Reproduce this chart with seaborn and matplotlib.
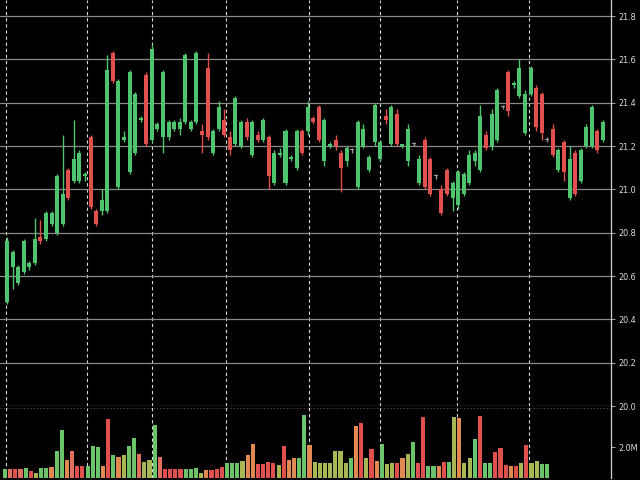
import numpy as np
import pandas as pd
import matplotlib
matplotlib.use("Agg")
import matplotlib.pyplot as plt
import seaborn as sns

# ---------------- data ----------------
opens = [20.48, 20.64, 20.57, 20.62, 20.64, 20.66, 20.78, 20.77, 20.84, 20.80,
         20.84, 21.09, 21.04, 21.04, 21.06, 21.24, 20.90, 20.90, 20.90,
         21.63, 21.01, 21.23, 21.08, 21.17, 21.32, 21.53, 21.23,
         21.28, 21.24, 21.24, 21.28, 21.28, 21.31, 21.28, 21.31, 21.27, 21.56,
         21.17, 21.28, 21.32, 21.24, 21.21, 21.20, 21.31, 21.16, 21.25, 21.23,
         21.24, 21.03, 21.16, 21.03, 21.14, 21.10, 21.27, 21.27, 21.33, 21.38, 21.13, 21.20, 21.23,
         21.17, 21.13, 21.18, 21.01, 21.20, 21.09, 21.22, 21.14, 21.34, 21.21,
         21.35, 21.20, 21.13, 21.21, 21.03, 21.23, 21.14, 21.06, 21.00, 21.09,
         20.96, 20.93, 20.98, 21.03, 21.13, 21.09, 21.25, 21.20, 21.23, 21.38,
         21.54, 21.48, 21.43, 21.26, 21.44, 21.47, 21.44, 21.23, 21.28, 21.09,
         21.22, 20.96, 21.17, 21.04, 21.20, 21.20, 21.27, 21.23]
highs = [20.78, 20.72, 20.65, 20.77, 20.67, 20.87, 20.86, 20.90, 20.90, 21.07,
         21.25, 21.10, 21.32, 21.18, 21.08, 21.25, 20.91, 21.00, 21.62,
         21.64, 21.51, 21.27, 21.55, 21.45, 21.34, 21.54, 21.67,
         21.31, 21.55, 21.32, 21.32, 21.33, 21.63, 21.32, 21.64, 21.30, 21.63,
         21.28, 21.41, 21.37, 21.27, 21.43, 21.32, 21.33, 21.32, 21.27, 21.33,
         21.25, 21.18, 21.19, 21.28, 21.16, 21.28, 21.28, 21.41, 21.34, 21.39, 21.33, 21.22, 21.25,
         21.18, 21.20, 21.19, 21.32, 21.30, 21.16, 21.40, 21.23, 21.37, 21.39,
         21.37, 21.21, 21.30, 21.22, 21.16, 21.24, 21.15, 21.07, 21.02, 21.10,
         21.04, 21.09, 21.08, 21.18, 21.18, 21.39, 21.27, 21.37, 21.47, 21.39,
         21.55, 21.50, 21.60, 21.46, 21.57, 21.48, 21.45, 21.24, 21.30, 21.19,
         21.23, 21.20, 21.18, 21.19, 21.30, 21.39, 21.28, 21.32]
lows = [20.47, 20.54, 20.56, 20.61, 20.63, 20.65, 20.75, 20.76, 20.83, 20.79,
        20.83, 20.95, 21.03, 21.03, 21.04, 20.91, 20.83, 20.88, 20.89,
        21.49, 21.00, 21.22, 21.07, 21.16, 21.31, 21.20, 21.22,
        21.27, 21.17, 21.23, 21.27, 21.25, 21.30, 21.27, 21.30, 21.17, 21.23,
        21.16, 21.27, 21.24, 21.16, 21.20, 21.19, 21.23, 21.15, 21.22, 21.22,
        21.00, 21.02, 21.15, 21.02, 21.13, 21.09, 21.16, 21.25, 21.30, 21.22, 21.11, 21.19, 21.18,
        20.99, 21.11, 21.17, 21.00, 21.19, 21.08, 21.20, 21.13, 21.30, 21.20,
        21.20, 21.19, 21.11, 21.20, 21.02, 21.00, 20.97, 21.05, 20.88, 20.97,
        20.90, 20.91, 20.97, 21.02, 21.11, 21.08, 21.18, 21.18, 21.22, 21.37,
        21.34, 21.47, 21.42, 21.25, 21.43, 21.27, 21.23, 21.22, 21.15, 21.08,
        21.04, 20.95, 20.97, 21.03, 21.19, 21.19, 21.17, 21.22]
closes = [20.76, 20.71, 20.64, 20.76, 20.66, 20.77, 20.76, 20.89, 20.89, 21.06,
          20.98, 20.96, 21.14, 21.17, 21.07, 20.92, 20.84, 20.95, 21.55,
          21.50, 21.50, 21.24, 21.54, 21.44, 21.33, 21.21, 21.65,
          21.30, 21.54, 21.31, 21.31, 21.31, 21.62, 21.31, 21.63, 21.25, 21.24,
          21.27, 21.38, 21.25, 21.18, 21.42, 21.31, 21.24, 21.31, 21.23, 21.32,
          21.06, 21.17, 21.17, 21.27, 21.15, 21.27, 21.17, 21.38, 21.31, 21.23, 21.32, 21.21, 21.20,
          21.10, 21.19, 21.18, 21.31, 21.28, 21.15, 21.39, 21.22, 21.32, 21.38,
          21.21, 21.21, 21.28, 21.21, 21.14, 21.01, 20.98, 21.06, 20.89, 20.98,
          21.03, 21.08, 21.07, 21.16, 21.17, 21.34, 21.19, 21.35, 21.46, 21.38,
          21.36, 21.49, 21.56, 21.44, 21.56, 21.29, 21.26, 21.23, 21.16, 21.18,
          21.08, 21.14, 20.98, 21.18, 21.29, 21.38, 21.18, 21.31]

volumes = [0.56, 0.56, 0.56, 0.56, 0.63, 0.47, 0.30, 0.63, 0.63, 0.69,
           1.76, 3.10, 1.16, 1.76, 0.77, 0.77, 0.77, 2.08, 2.02, 0.77,
           3.81, 1.48, 1.37, 1.48, 2.08, 2.56, 1.55, 1.05, 1.16, 3.42,
           1.37, 0.56, 0.56, 0.56, 0.56, 0.56, 0.56, 0.63, 0.30, 0.52,
           0.52, 0.56, 0.69, 0.95, 0.95, 0.95, 1.10, 1.48, 2.19, 0.90,
           0.90, 1.01, 0.95, 0.84, 2.08, 1.16, 1.27, 1.27,
           4.06, 2.13, 1.05, 0.99, 0.95, 0.95, 1.76, 1.76, 0.95, 1.27,
           3.35, 3.53, 1.27, 1.85, 1.12, 2.19, 0.90, 0.95, 0.95, 1.27,
           1.55, 2.34, 0.95, 3.92, 0.77, 0.77, 0.77, 1.05, 1.05, 3.92,
           3.85, 0.99, 1.27, 2.52, 4.00, 0.99, 0.99, 1.70, 1.92, 0.84,
           0.77, 0.77, 0.99, 2.13, 0.95, 1.12, 0.90, 0.90]
vol_tone = list("gsrsgrogga" "ggasrrggga" "rgaoggsoog" "srrrrgggoa" "rrrgggoaar" "rrroraag"
                "gaooooooog" "aroragoora" "ogrrggargo" "aoogrggrrr" "aroroogg")

price_ticks = [21.8, 21.6, 21.4, 21.2, 21.0, 20.8, 20.6, 20.4, 20.2, 20.0]
price_labels = ["21.8", "21.6", "21.4", "21.2", "21.0", "20.8", "20.6", "20.4", "20.2", "20.0"]
vol_ticks = [2.0]
vol_labels = ["2.0M"]

# ---------------- style ----------------
sns.set_theme(style="dark", rc={
    "figure.facecolor": "black", "axes.facecolor": "black",
    "axes.edgecolor": "#cfcfcf", "text.color": "#dddddd",
    "xtick.color": "#bbbbbb", "ytick.color": "#bbbbbb",
})
plt.rcParams["font.family"] = ["DejaVu Sans"]

UP, DOWN, FLAT = "#4fc46e", "#e0504c", "#9a9a9a"
tone_colors = {"g": "#6cc46a", "o": "#a8b754", "a": "#e08a52",
               "s": "#e0705e", "r": "#e0504c"}

W, H = 640, 480
fig = plt.figure(figsize=(6.4, 4.8), dpi=100)
right_px = 611
ax = fig.add_axes([0, 1 - 406 / H, right_px / W, 406 / H])
axv = fig.add_axes([0, 2 / H, right_px / W, (478 - 406) / H])

n = len(opens)
idx = np.arange(n)
cand_step, cand_x0 = 5.57, 7
ax.set_xlim(-cand_x0 / cand_step, (right_px - cand_x0) / cand_step)
ax.set_ylim(20.0, 21.874)

colors = [UP if c > o else (DOWN if c < o else FLAT) for o, c in zip(opens, closes)]
ax.vlines(idx, lows, highs, colors=colors, linewidth=1.0, zorder=3)
bottoms = np.minimum(opens, closes)
heights = np.maximum(np.abs(np.array(closes) - np.array(opens)), 0.004)
ax.bar(idx, heights, bottom=bottoms, width=0.72, color=colors, linewidth=0, zorder=4)

# volume panel
m = len(volumes)
vdf = pd.DataFrame({"idx": np.arange(m), "vol": volumes, "tone": vol_tone[:m]})
sns.barplot(data=vdf, x="idx", y="vol", hue="tone", palette=tone_colors,
            dodge=False, native_scale=True, width=0.8, saturation=1,
            legend=False, ax=axv, zorder=3, linewidth=0, edgecolor="none")
vol_step, vol_x0 = 5.162, 5
axv.set_xlim(-vol_x0 / vol_step, (right_px - vol_x0) / vol_step)
axv.set_ylim(0, 4.65)
axv.set_xlabel("")
axv.set_ylabel("")

# grid lines
vgrid_px = [6, 87, 152, 226, 309, 380, 457, 529]
for a, step, x0 in ((ax, cand_step, cand_x0), (axv, vol_step, vol_x0)):
    a.set_xticks([(p - x0) / step for p in vgrid_px])
    a.set_xticklabels([])
    a.tick_params(axis="x", length=0)
    a.grid(axis="x", color="#d8d8d8", linestyle=(0, (3, 2.5)), linewidth=0.8)
    a.set_axisbelow(True)
    a.yaxis.tick_right()
    for s in ("left", "top", "bottom"):
        a.spines[s].set_visible(False)
    a.spines["right"].set_color("#d0d0d0")
    a.spines["right"].set_linewidth(0.9)

ax.set_yticks(price_ticks)
ax.set_yticklabels(price_labels)
ax.grid(axis="y", color="#8a8a8a", linestyle="-", linewidth=0.9)
axv.set_yticks(vol_ticks)
axv.set_yticklabels(vol_labels)
axv.grid(axis="y", visible=False)
axv.axhline(4.5, color="#555555", linestyle=(0, (1, 2)), linewidth=0.8, zorder=1)
for a in (ax, axv):
    a.tick_params(axis="y", which="both", right=True, left=False, length=3,
                  width=0.7, color="#aaaaaa", labelsize=5.8,
                  labelcolor="#dddddd", pad=2)

fig.savefig("out.png", dpi=100, facecolor="black")
